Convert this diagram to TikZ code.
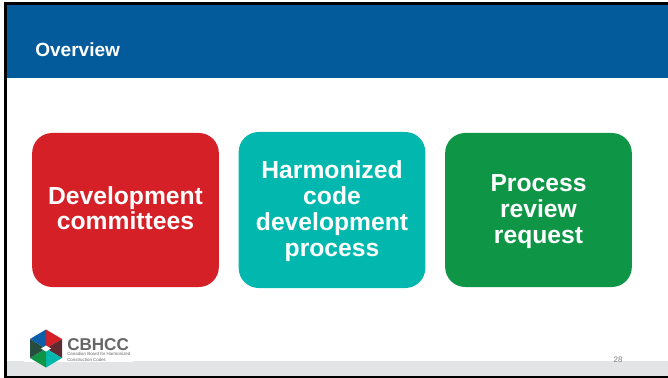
\documentclass[tikz,border=0pt]{standalone}
\usepackage{fontspec}
\setmainfont{Liberation Sans}
\usepackage{tikz}
\usetikzlibrary{positioning}
\definecolor{bannerblue}{RGB}{4,91,155}
\definecolor{devred}{RGB}{214,32,39}
\definecolor{codeteal}{RGB}{2,184,174}
\definecolor{reviewgreen}{RGB}{14,150,70}
\definecolor{footgrey}{RGB}{227,228,229}
\definecolor{logoblue}{RGB}{14,95,170}
\definecolor{logomaroon}{RGB}{96,42,48}
\definecolor{logoforest}{RGB}{38,77,62}
\newcommand{\gaptop}[1]{\rule{0pt}{#1}}
\newcommand{\gapbot}[1]{\rule[-#1]{0pt}{#1}}
\begin{document}
\begin{tikzpicture}[
x=0.75pt, y=-0.75pt,
roundbox/.style={rounded corners=15pt, minimum width=140pt, minimum height=115.5pt, inner sep=0pt, align=center, text=white, font=\fontsize{18.5}{19.5}\selectfont\bfseries},
]
\useasboundingbox (0,0) rectangle (668,378);
%Background
\fill[white] (0,0) rectangle (668,378);
\fill[bannerblue] (6,5) rectangle (668,78);
\fill[footgrey] (6,361) rectangle (668,376);
\fill[white] (24,328) rectangle (133,362);
\fill[black] (3.5,2.5) rectangle (668,5);
\fill[black] (3.5,376) rectangle (668,378);
\fill[black] (3.5,2.5) rectangle (6.5,378);
%Title
\node[anchor=west, inner sep=0pt, text=white, font=\fontsize{14.3}{16}\selectfont\bfseries] (title) at (35,49.5) {Overview};
%Boxes
\node[roundbox, fill=devred, font=\fontsize{18.5}{18.75}\selectfont\bfseries] (dev) at (125.5,210) {Development\\committees\gapbot{3pt}};
\node[roundbox, fill=codeteal, minimum height=117pt] (code) at (332,210) {\gaptop{15pt}Harmonized\\code\\development\\process};
\node[roundbox, fill=reviewgreen] (review) at (538.5,210) {\gaptop{15pt}Process\\review\\request};
%Logo
\coordinate (hc) at (46,348.5);
\fill[devred]      (hc) -- ++(0,-19) -- ++(16,9.5) -- cycle;
\fill[logomaroon]  (hc) -- ++(16,-9.5) -- ++(0,19) -- cycle;
\fill[codeteal]    (hc) -- ++(16,9.5) -- ++(-16,9.5) -- cycle;
\fill[reviewgreen] (hc) -- ++(0,19) -- ++(-16,-9.5) -- cycle;
\fill[logoforest]  (hc) -- ++(-16,9.5) -- ++(0,-19) -- cycle;
\fill[logoblue]    (hc) -- ++(-16,-9.5) -- ++(16,-9.5) -- cycle;
\fill[white] (hc) ++(-5,0) -- ++(5,-3) -- ++(5,3) -- ++(-5,3) -- cycle;
\node[anchor=west, inner sep=0pt, text=black!60, font=\fontsize{12.8}{14}\selectfont\bfseries] (brand) at (67,344.5) {CBHCC};
\node[anchor=north west, inner sep=0pt, align=left, text=black!60, font=\fontsize{3.3}{3.9}\selectfont] (sub) at (67,352.5) {Canadian Board for Harmonized\\Construction Codes};
%Page number
\node[text=black!50, font=\fontsize{6}{7}\selectfont] (page) at (618,360) {28};
\end{tikzpicture}
\end{document}
